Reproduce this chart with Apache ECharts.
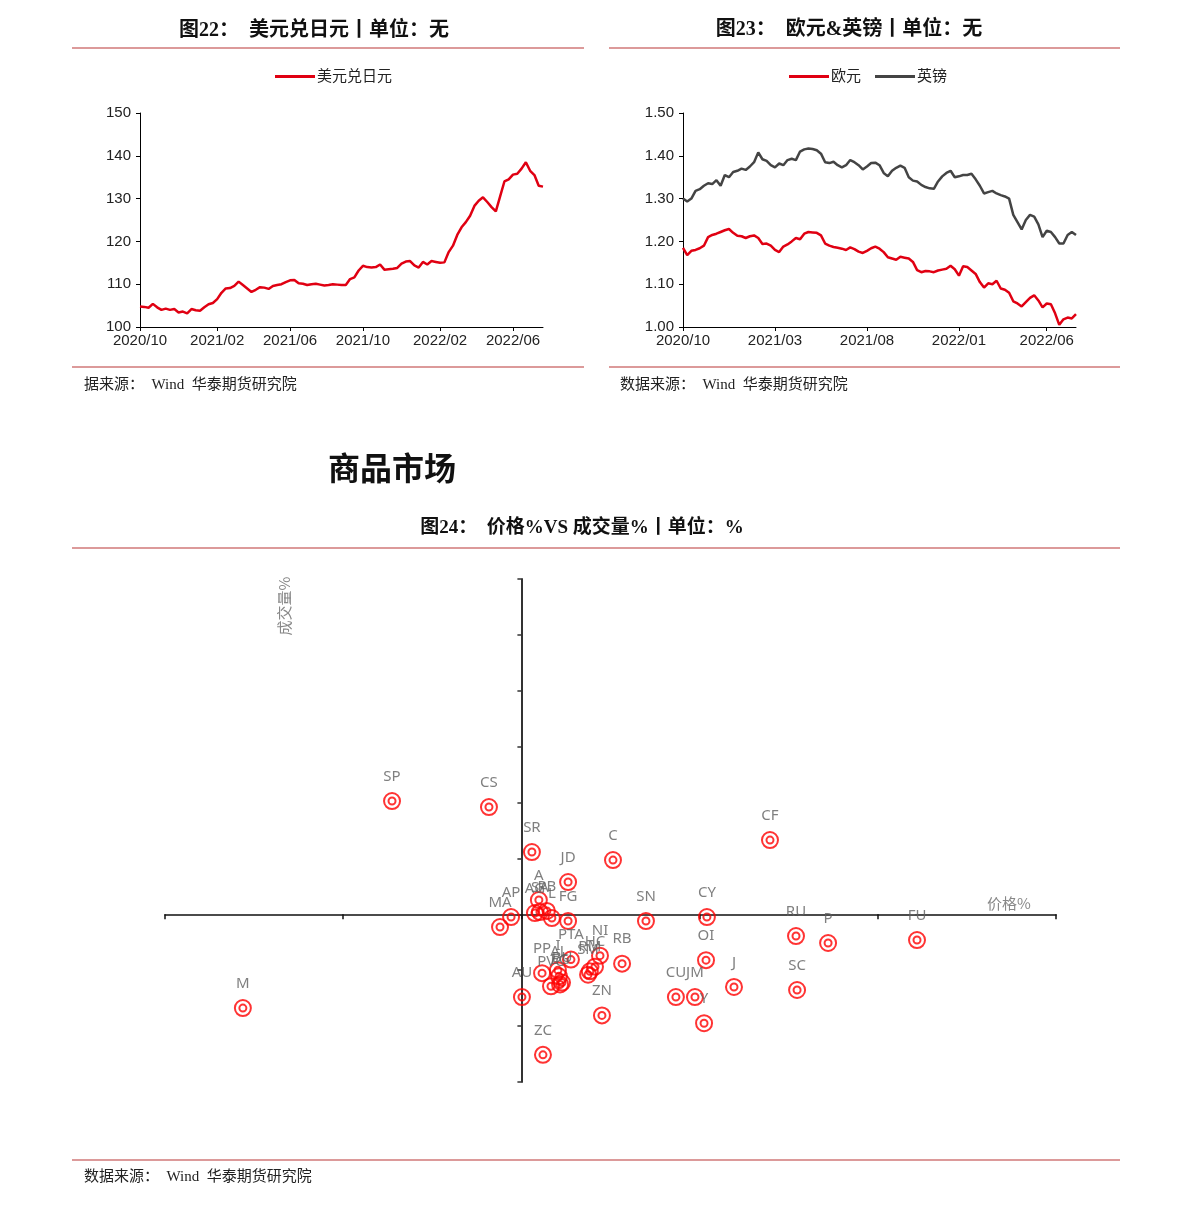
<!DOCTYPE html>
<html><head><meta charset="utf-8">
<script src="https://cdn.jsdelivr.net/npm/echarts@6/dist/echarts.min.js"></script>
<style>html,body{margin:0;padding:0;background:#fff}#c{width:1191px;height:1206px}</style>
</head><body><div id="c"></div>
<script>
// ---- Data (weekly readings) ----
const usdjpy = [104.8,104.7,104.5,105.4,104.6,104.0,104.3,104.0,104.2,103.4,
103.6,103.2,104.2,103.9,103.8,104.6,105.3,105.6,106.5,108.0,
109.0,109.1,109.6,110.6,109.8,109.0,108.2,108.7,109.3,109.2,
108.9,109.6,109.8,110.0,110.5,110.9,111.0,110.2,110.1,109.8,
110.0,110.1,109.9,109.7,109.8,110.0,109.9,109.8,109.8,111.2,
111.6,113.2,114.3,114.0,113.9,114.0,114.6,113.4,113.5,113.6,
113.8,114.8,115.3,115.4,114.4,113.9,115.2,114.6,115.4,115.2,
115.0,115.1,117.5,119.0,121.5,123.3,124.5,126.0,128.3,129.5,
130.3,129.2,128.0,127.0,130.5,134.0,134.5,135.6,135.8,137.0,
138.5,136.5,135.5,133.0,132.8];
const eur = [1.185,1.168,1.178,1.180,1.184,1.190,1.210,1.215,1.218,1.222,
1.226,1.229,1.220,1.213,1.212,1.208,1.212,1.214,1.208,1.194,
1.195,1.190,1.180,1.175,1.188,1.193,1.200,1.208,1.205,1.218,
1.222,1.221,1.220,1.214,1.195,1.190,1.187,1.185,1.183,1.180,
1.186,1.182,1.176,1.173,1.178,1.184,1.188,1.183,1.175,1.163,
1.160,1.157,1.164,1.162,1.160,1.152,1.133,1.128,1.131,1.130,
1.128,1.132,1.134,1.136,1.143,1.135,1.120,1.142,1.140,1.132,
1.124,1.105,1.092,1.102,1.100,1.108,1.090,1.087,1.080,1.060,
1.055,1.048,1.058,1.068,1.074,1.062,1.046,1.055,1.053,1.032,
1.005,1.018,1.022,1.020,1.030];
const gbp = [1.300,1.293,1.300,1.318,1.322,1.330,1.336,1.334,1.343,1.330,
1.355,1.350,1.362,1.365,1.370,1.367,1.375,1.385,1.408,1.392,
1.388,1.378,1.373,1.382,1.378,1.390,1.393,1.390,1.410,1.415,
1.417,1.416,1.413,1.405,1.385,1.383,1.386,1.378,1.373,1.378,
1.390,1.385,1.378,1.368,1.375,1.383,1.384,1.378,1.360,1.352,
1.365,1.372,1.377,1.372,1.350,1.342,1.340,1.332,1.327,1.324,
1.323,1.340,1.352,1.360,1.365,1.350,1.352,1.355,1.355,1.358,
1.345,1.330,1.312,1.315,1.318,1.312,1.308,1.305,1.300,1.262,
1.245,1.228,1.250,1.262,1.258,1.240,1.210,1.225,1.222,1.210,
1.195,1.195,1.215,1.222,1.215];
const jpyTickMonths = ['2020/10','2021/02','2021/06','2021/10','2022/02','2022/06'];
const eurTickMonths = ['2020/10','2021/03','2021/08','2022/01','2022/06'];

const commodityNames = ['SP','CS','M','SR','C','JD','CF','SN','CY','RU','P','FU','OI','J','SC',
'CU','JM','Y','ZN','ZC','AU','RB','NI','HC','RM','SM','PTA','PP','I','PVC','AL','BU','EG',
'A','PB','AG','SA','L','FG','AP','MA'];
const priceChg = [-7.26,-1.82,-15.63,0.59,5.14,2.62,13.95,6.99,10.41,15.41,17.21,22.2,10.36,11.93,15.47,
8.67,9.74,10.25,4.52,1.21,0.03,5.65,4.41,4.13,3.84,3.74,2.78,1.16,2.05,1.66,2.11,2.28,2.17,
0.98,1.43,0.76,1.04,1.71,2.62,-0.58,-1.2];
const volChg = [20.27,19.2,-16.77,11.15,9.71,5.78,13.29,-1.2,-0.48,-3.88,-5.13,-4.6,-8.2,-13.0,-13.54,
-14.8,-14.8,-19.48,-18.08,-25.14,-14.8,-8.82,-7.39,-9.36,-10.2,-10.8,-8.1,-10.52,-9.99,-12.87,-11.1,-12.2,-12.55,
2.56,0.6,0.23,0.4,-0.66,-1.2,-0.48,-2.27];

// weekly date categories (Fridays)
const dates = [];
(function(){ let t = Date.UTC(2020,9,2);
  for (let i=0;i<usdjpy.length;i++){ const d=new Date(t+i*7*86400000);
    dates.push(d.getUTCFullYear()+'/'+String(d.getUTCMonth()+1).padStart(2,'0')+'/'+String(d.getUTCDate()).padStart(2,'0')); }
})();
function firstIdx(months){ const s=new Set(); const seen=new Set();
  dates.forEach((v,i)=>{const m=v.slice(0,7); if(months.includes(m)&&!seen.has(m)){seen.add(m);s.add(i);}}); return s; }
const jpyIdx = firstIdx(jpyTickMonths), eurIdx = firstIdx(eurTickMonths);

const SANS = "'Liberation Sans','Noto Sans CJK SC',sans-serif";
const TITLEF = "bold 20px 'Liberation Serif','Noto Sans CJK SC',serif";
const TITLEF3 = "bold 19px 'Liberation Serif','Noto Sans CJK SC',serif";
const SRCF = "15px 'Liberation Serif','Noto Sans CJK SC',serif";
const SEP = '#d07878';

function catAxis(gi, idxSet){
  return {type:'category', gridIndex:gi, data:dates, boundaryGap:false,
    axisLine:{lineStyle:{color:'#000',width:1}},
    axisTick:{show:true, length:4, interval:(i)=>idxSet.has(i), lineStyle:{color:'#000'}},
    axisLabel:{interval:(i)=>idxSet.has(i), formatter:v=>v.slice(0,7), color:'#222', fontSize:15, fontFamily:SANS, margin:6}};
}
function valAxis(gi,min,max,iv,dec){
  return {type:'value', gridIndex:gi, min:min, max:max, interval:iv,
    axisLine:{show:true,lineStyle:{color:'#000',width:1}},
    axisTick:{show:true,length:4,lineStyle:{color:'#000'}},
    splitLine:{show:false},
    axisLabel:{color:'#222',fontSize:15,fontFamily:SANS,margin:9,formatter:v=>v.toFixed(dec)}};
}

const scatterData = commodityNames.map((n,i)=>({name:n, value:[priceChg[i], volChg[i]]}));

const txt = (x,y,text,font,fill,align,rot)=>({type:'text', x:x, y:y, rotation:rot||0, z:10,
  style:{text:text, font:font, fill:fill||'#111', textAlign:align||'left', align:align||'left', textVerticalAlign:'middle', verticalAlign:'middle'}});
const hline = (x1,x2,y)=>({type:'line', shape:{x1:x1,y1:y,x2:x2,y2:y}, style:{stroke:SEP,lineWidth:1.5}});

const legendBase = {icon:'rect', itemWidth:40, itemHeight:3, itemGap:14, top:64,
  textStyle:{fontSize:15,color:'#222',fontFamily:SANS,padding:[0,0,0,-3]}};

const option = {
  animation:false,
  backgroundColor:'#fff',
  legend:[
    Object.assign({data:['美元兑日元'], left:270}, legendBase),
    Object.assign({data:['欧元','英镑'], left:784}, legendBase)
  ],
  grid:[
    {left:140, top:113, width:403, height:214},
    {left:683, top:113, width:393, height:214},
    {left:165, top:579, width:891, height:503}
  ],
  xAxis:[
    catAxis(0,jpyIdx), catAxis(1,eurIdx),
    {type:'value', gridIndex:2, min:-20, max:30, interval:10,
     axisLine:{onZero:true, lineStyle:{color:'#111',width:1.5}},
     axisTick:{show:true,length:5,inside:false,lineStyle:{color:'#111',width:1.5}},
     axisLabel:{show:false}, splitLine:{show:false}}
  ],
  yAxis:[
    valAxis(0,100,150,10,0), valAxis(1,1.0,1.5,0.1,2),
    {type:'value', gridIndex:2, min:-30, max:60, interval:10,
     axisLine:{onZero:true, lineStyle:{color:'#333',width:2}},
     axisTick:{show:true,length:4,lineStyle:{color:'#333',width:1.5}},
     axisLabel:{show:false}, splitLine:{show:false}}
  ],
  series:[
    {name:'美元兑日元', type:'line', xAxisIndex:0, yAxisIndex:0, data:usdjpy, symbol:'none',
     lineStyle:{color:'#e00012',width:2.5}, itemStyle:{color:'#e00012'}},
    {name:'欧元', type:'line', xAxisIndex:1, yAxisIndex:1, data:eur, symbol:'none',
     lineStyle:{color:'#e00012',width:2.5}, itemStyle:{color:'#e00012'}},
    {name:'英镑', type:'line', xAxisIndex:1, yAxisIndex:1, data:gbp, symbol:'none',
     lineStyle:{color:'#444',width:2.5}, itemStyle:{color:'#444'}},
    {name:'outer', type:'scatter', xAxisIndex:2, yAxisIndex:2, data:scatterData, symbol:'circle', symbolSize:16,
     itemStyle:{color:'rgba(0,0,0,0)', borderColor:'#ff0000', borderWidth:2},
     label:{show:true, position:'top', distance:8, formatter:'{b}', color:'#5f5f5f', fontSize:15, fontFamily:"'Noto Sans',sans-serif"}},
    {name:'inner', type:'scatter', xAxisIndex:2, yAxisIndex:2, data:scatterData, symbol:'circle', symbolSize:7,
     itemStyle:{color:'rgba(0,0,0,0)', borderColor:'#ff0000', borderWidth:2}, label:{show:false}}
  ],
  graphic:[
    txt(314,31,'图22：  美元兑日元丨单位：无',TITLEF,'#111','center'),
    txt(849,30,'图23：  欧元&英镑丨单位：无',TITLEF,'#111','center'),
    hline(72,584,48), hline(609,1120,48), hline(72,584,367), hline(609,1120,367),
    txt(84,385,'据来源：  Wind  华泰期货研究院',SRCF,'#222','left'),
    txt(620,385,'数据来源：  Wind  华泰期货研究院',SRCF,'#222','left'),
    txt(392,468,'商品市场',"bold 32px 'Noto Sans CJK SC',sans-serif",'#111','center'),
    txt(582,528,'图24：  价格%VS 成交量%丨单位：%',TITLEF3,'#111','center'),
    hline(72,1120,548), hline(72,1120,1160),
    txt(84,1177,'数据来源：  Wind  华泰期货研究院',SRCF,'#222','left'),
    txt(1009,903,'价格%',"15px 'Noto Sans CJK SC',sans-serif",'#888','center'),
    txt(284,606,'成交量%',"15px 'Noto Sans CJK SC',sans-serif",'#888','center',Math.PI/2)
  ]
};
const chart = echarts.init(document.getElementById('c'), null, {renderer:'canvas'});
chart.setOption(option);
</script></body></html>
